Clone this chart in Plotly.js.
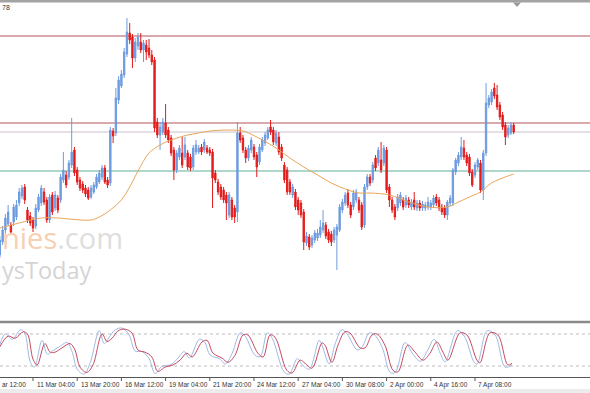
<!DOCTYPE html>
<html><head><meta charset="utf-8">
<script src="https://cdn.plot.ly/plotly-3.0.1.min.js"></script>
<style>html,body{margin:0;padding:0;background:#fff;overflow:hidden}#chart{width:590px;height:393px}</style>
</head><body><div id="chart"></div>
<script>
// H4 candles (price values)
const openP = [1.0645,1.0658,1.0670,1.0676,1.0675,1.0678,1.0683,1.0697,1.0704,1.0713,
1.0690,1.0684,1.0680,1.0674,1.0690,1.0697,1.0708,1.0700,1.0680,1.0705,
1.0692,1.0702,1.0700,1.0720,1.0725,1.0723,1.0735,1.0750,1.0730,1.0720,
1.0716,1.0712,1.0710,1.0703,1.0708,1.0713,1.0718,1.0723,1.0732,1.0720,
1.0717,1.0769,1.0767,1.0800,1.0814,1.0825,1.0846,1.0867,1.0863,1.0842,
1.0854,1.0858,1.0850,1.0855,1.0852,1.0845,1.0840,1.0778,1.0765,1.0768,
1.0777,1.0770,1.0762,1.0750,1.0730,1.0743,1.0747,1.0743,1.0747,1.0743,
1.0733,1.0748,1.0748,1.0753,1.0750,1.0752,1.0750,1.0748,1.0727,1.0718,
1.0713,1.0710,1.0705,1.0685,1.0700,1.0692,1.0688,1.0767,1.0762,1.0750,
1.0742,1.0750,1.0753,1.0745,1.0738,1.0750,1.0757,1.0762,1.0773,1.0770,
1.0757,1.0763,1.0753,1.0735,1.0730,1.0718,1.0705,1.0708,1.0700,1.0697,
1.0688,1.0657,1.0663,1.0655,1.0660,1.0662,1.0665,1.0670,1.0675,1.0668,
1.0666,1.0660,1.0665,1.0670,1.0690,1.0697,1.0707,1.0695,1.0693,1.0700,
1.0700,1.0695,1.0675,1.0713,1.0723,1.0720,1.0742,1.0737,1.0740,1.0737,
1.0750,1.0713,1.0700,1.0693,1.0692,1.0697,1.0700,1.0695,1.0700,1.0693,
1.0700,1.0692,1.0697,1.0692,1.0692,1.0693,1.0693,1.0695,1.0703,1.0700,
1.0693,1.0692,1.0685,1.0697,1.0697,1.0728,1.0737,1.0743,1.0752,1.0745,
1.0743,1.0728,1.0725,1.0733,1.0737,1.0710,1.0747,1.0795,1.0798,1.0812,
1.0805,1.0795,1.0785,1.0775,1.0765,1.0767,1.0775];
const highP = [1.0664,1.0674,1.0686,1.0695,1.0678,1.0696,1.0700,1.0712,1.0715,1.0716,
1.0693,1.0688,1.0683,1.0696,1.0706,1.0715,1.0712,1.0703,1.0706,1.0708,
1.0709,1.0705,1.0726,1.0748,1.0729,1.0740,1.0782,1.0753,1.0733,1.0723,
1.0719,1.0715,1.0713,1.0715,1.0718,1.0726,1.0730,1.0735,1.0735,1.0723,
1.0773,1.0772,1.0812,1.0824,1.0830,1.0852,1.0882,1.0877,1.0866,1.0862,
1.0867,1.0867,1.0860,1.0860,1.0861,1.0850,1.0843,1.0782,1.0778,1.0782,
1.0796,1.0773,1.0765,1.0753,1.0750,1.0755,1.0763,1.0763,1.0750,1.0746,
1.0755,1.0760,1.0755,1.0756,1.0761,1.0755,1.0753,1.0751,1.0730,1.0721,
1.0716,1.0713,1.0708,1.0708,1.0703,1.0695,1.0778,1.0773,1.0765,1.0753,
1.0755,1.0763,1.0756,1.0748,1.0756,1.0763,1.0768,1.0773,1.0780,1.0773,
1.0770,1.0768,1.0756,1.0738,1.0733,1.0721,1.0716,1.0711,1.0703,1.0700,
1.0691,1.0668,1.0666,1.0665,1.0670,1.0671,1.0680,1.0690,1.0678,1.0671,
1.0669,1.0673,1.0676,1.0696,1.0701,1.0708,1.0711,1.0698,1.0710,1.0711,
1.0703,1.0698,1.0716,1.0726,1.0726,1.0738,1.0745,1.0753,1.0758,1.0755,
1.0753,1.0716,1.0703,1.0696,1.0706,1.0708,1.0703,1.0705,1.0703,1.0701,
1.0708,1.0700,1.0700,1.0699,1.0698,1.0703,1.0700,1.0705,1.0706,1.0703,
1.0696,1.0695,1.0700,1.0705,1.0732,1.0742,1.0748,1.0763,1.0760,1.0748,
1.0746,1.0731,1.0738,1.0742,1.0740,1.0750,1.0817,1.0805,1.0811,1.0817,
1.0815,1.0798,1.0788,1.0778,1.0775,1.0778,1.0777];
const lowP = [1.0642,1.0655,1.0667,1.0674,1.0665,1.0674,1.0680,1.0694,1.0701,1.0696,
1.0677,1.0674,1.0668,1.0671,1.0688,1.0694,1.0695,1.0677,1.0677,1.0685,
1.0689,1.0687,1.0697,1.0717,1.0712,1.0720,1.0732,1.0724,1.0715,1.0709,
1.0707,1.0703,1.0700,1.0701,1.0706,1.0711,1.0716,1.0720,1.0716,1.0712,
1.0714,1.0757,1.0764,1.0796,1.0812,1.0822,1.0843,1.0856,1.0832,1.0838,
1.0850,1.0847,1.0838,1.0840,1.0842,1.0835,1.0768,1.0762,1.0750,1.0765,
1.0762,1.0757,1.0744,1.0720,1.0727,1.0740,1.0732,1.0740,1.0730,1.0729,
1.0730,1.0745,1.0746,1.0745,1.0747,1.0746,1.0744,1.0692,1.0717,1.0705,
1.0700,1.0697,1.0680,1.0682,1.0680,1.0677,1.0678,1.0757,1.0747,1.0737,
1.0739,1.0747,1.0740,1.0723,1.0735,1.0748,1.0754,1.0760,1.0765,1.0755,
1.0754,1.0745,1.0739,1.0717,1.0705,1.0705,1.0702,1.0690,1.0685,1.0682,
1.0650,1.0654,1.0650,1.0652,1.0657,1.0659,1.0662,1.0667,1.0661,1.0657,
1.0654,1.0657,1.0630,1.0668,1.0687,1.0694,1.0692,1.0682,1.0690,1.0697,
1.0687,1.0670,1.0672,1.0710,1.0714,1.0717,1.0729,1.0734,1.0727,1.0734,
1.0707,1.0693,1.0687,1.0680,1.0689,1.0694,1.0690,1.0692,1.0692,1.0690,
1.0690,1.0689,1.0689,1.0689,1.0689,1.0690,1.0690,1.0692,1.0694,1.0689,
1.0685,1.0682,1.0680,1.0694,1.0694,1.0725,1.0734,1.0740,1.0740,1.0734,
1.0724,1.0713,1.0722,1.0730,1.0707,1.0700,1.0744,1.0792,1.0795,1.0801,
1.0790,1.0780,1.0770,1.0755,1.0762,1.0765,1.0766];
const closeP = [1.0660,1.0670,1.0682,1.0688,1.0668,1.0693,1.0695,1.0708,1.0712,1.0700,
1.0680,1.0677,1.0672,1.0692,1.0703,1.0712,1.0698,1.0680,1.0703,1.0688,
1.0705,1.0690,1.0723,1.0730,1.0715,1.0737,1.0748,1.0727,1.0718,1.0712,
1.0710,1.0706,1.0702,1.0712,1.0715,1.0723,1.0727,1.0732,1.0718,1.0715,
1.0770,1.0764,1.0802,1.0820,1.0826,1.0848,1.0868,1.0860,1.0842,1.0858,
1.0863,1.0850,1.0857,1.0848,1.0845,1.0838,1.0772,1.0765,1.0773,1.0778,
1.0765,1.0760,1.0747,1.0730,1.0747,1.0752,1.0735,1.0755,1.0733,1.0732,
1.0752,1.0755,1.0752,1.0748,1.0758,1.0748,1.0747,1.0722,1.0720,1.0708,
1.0703,1.0700,1.0697,1.0705,1.0683,1.0683,1.0767,1.0760,1.0750,1.0742,
1.0752,1.0760,1.0743,1.0733,1.0753,1.0760,1.0765,1.0770,1.0768,1.0758,
1.0767,1.0748,1.0742,1.0720,1.0708,1.0708,1.0713,1.0693,1.0690,1.0685,
1.0658,1.0664,1.0653,1.0662,1.0667,1.0667,1.0673,1.0677,1.0664,1.0660,
1.0658,1.0670,1.0673,1.0693,1.0698,1.0705,1.0695,1.0685,1.0707,1.0708,
1.0690,1.0673,1.0713,1.0723,1.0717,1.0735,1.0732,1.0750,1.0730,1.0752,
1.0710,1.0700,1.0690,1.0683,1.0703,1.0705,1.0693,1.0702,1.0695,1.0698,
1.0693,1.0697,1.0692,1.0696,1.0695,1.0698,1.0697,1.0702,1.0697,1.0692,
1.0688,1.0685,1.0698,1.0702,1.0730,1.0740,1.0745,1.0753,1.0743,1.0737,
1.0727,1.0715,1.0735,1.0740,1.0710,1.0747,1.0797,1.0802,1.0808,1.0804,
1.0793,1.0783,1.0773,1.0763,1.0772,1.0775,1.0768];

// moving average read at sample candles
const maIdx = [0,7,15,21,25,33,36,40,44,47,50,54,58,62,68,72,76,83,88,90,95,100,105,110,115,120,125,130,134,141,148,155,162,166,170,174,178,186];
const maVal = [1.0672,1.0677,1.0682,1.0682,1.0681,1.0680,1.0683,1.0690,1.0700,1.0713,1.0729,1.0747,1.0755,1.0760,1.0765,1.0767,1.0769,1.0770,1.0769,1.0767,1.0760,1.0752,1.0742,1.0733,1.0725,1.0717,1.0711,1.0707,1.0707,1.0705,1.0698,1.0693,1.0693,1.0698,1.0703,1.0708,1.0717,1.0726];

// horizontal levels on the price panel
const levelPrices = [1.0864, 1.0777, 1.0768, 1.0729];
const levelColors = ['#b4525c', '#b4525c', '#cbbfcc', '#5fae98'];

// stochastic oscillator (%K and %D), sampled
const kIdx = [0,2,4.5,7.5,9,11,12.5,15.3,17.2,19,21.5,24.4,26.2,28,30.5,32.7,36,37.8,39.6,41.8,44.3,46.8,49,51.5,54,56.2,58.8,61.7,64.2,66.7,68.6,72.2,74,76.2,79.4,81.6,84.1,87,88.8,92.4,94.3,96.8,98.6,102.9,104.8,107.7,109.5,112,115.6,116.7,119.2,121.4,123.9,125.7,129.4,131.2,133.7,135.5,138.4,141.3,143.1,146.7,149.3,152.2,154.7,157.2,159.4,161.2,165.6,168.1,171.7,172.8,176.4,179.3,182.9,185.4];
const kVal = [60,80,70,88,82,28,18,68,42,48,56,64,46,14,5,26,86,62,74,88,91,78,48,47,34,6,20,22,33,47,35,70,66,40,34,24,44,82,76,40,38,82,72,9,5,34,22,14,68,58,24,62,88,80,50,56,82,79,55,8,8,64,44,29,48,70,44,28,86,76,27,24,86,78,18,22];
const dIdx = [0,3,5.5,8.5,10,12,13.5,16.3,18.2,20,22.5,25.4,27.2,29,31.5,33.7,37,38.8,40.6,42.8,45.3,47.8,50,52.5,55,57.2,59.8,62.7,65.2,67.7,69.6,73.2,75,77.2,80.4,82.6,85.1,88,89.8,93.4,95.3,97.8,99.6,103.9,105.8,108.7,110.5,113,116.6,117.7,120.2,122.4,124.9,126.7,130.4,132.2,134.7,136.5,139.4,142.3,144.1,147.7,150.3,153.2,155.7,158.2,160.4,162.2,166.6,169.1,172.7,173.8,177.4,180.3,183.9,185.4];
const dVal = [56,76,72,84,80,33,22,62,46,46,54,62,50,18,8,22,80,66,72,86,89,82,50,46,37,10,18,22,31,44,37,65,68,44,35,27,40,78,78,44,37,78,74,12,7,31,25,16,63,59,27,59,84,82,54,54,78,80,59,12,9,59,46,31,44,65,46,31,82,78,31,26,82,78,22,25];
const stochLevels = [80, 20];

// time axis
const tickIdx = [12,28,44,60,76,92,108,124,140,156,172];
const tickLabels = ['11 Mar 04:00','13 Mar 20:00','16 Mar 12:00','19 Mar 04:00','21 Mar 20:00','24 Mar 12:00','27 Mar 04:00','30 Mar 08:00','2 Apr 00:00','4 Apr 16:00','7 Apr 08:00'];
const edgeLabel = 'ar 12:00';   // visible tail of the label cut by the left edge

const W = 590, H = 393;
const py = p => 1 - p / H;           // pixel row -> paper fraction
const xr = [0.054, 213.63];
const candleX = openP.map((_, i) => i);
const toPaperX = i => (i - xr[0]) / (xr[1] - xr[0]);

const traces = [
  {type:'candlestick', x:candleX, open:openP, high:highP, low:lowP, close:closeP,
   xaxis:'x', yaxis:'y', whiskerwidth:0, hoverinfo:'skip',
   increasing:{line:{color:'#6d9be0', width:1}, fillcolor:'#6d9be0'},
   decreasing:{line:{color:'#e41b1b', width:1}, fillcolor:'#e41b1b'}},
  {type:'scatter', mode:'lines', x:maIdx, y:maVal, xaxis:'x', yaxis:'y',
   line:{color:'#e8a658', width:1, shape:'spline'}, hoverinfo:'skip'},
  {type:'scatter', mode:'lines', x:kIdx, y:kVal, xaxis:'x2', yaxis:'y2',
   line:{color:'#9db8e4', width:1, shape:'spline'}, hoverinfo:'skip'},
  {type:'scatter', mode:'lines', x:dIdx, y:dVal, xaxis:'x2', yaxis:'y2',
   line:{color:'#c34a5e', width:1, shape:'spline'}, hoverinfo:'skip'}
];

const shapes = [];
levelPrices.forEach((p, k) => shapes.push({type:'line', xref:'paper', yref:'y', x0:0, x1:1, y0:p, y1:p,
  line:{color:levelColors[k], width:1}, layer:'below'}));
stochLevels.forEach(v => shapes.push({type:'line', xref:'paper', yref:'y2', x0:0, x1:1, y0:v, y1:v,
  line:{color:'#bdbdbd', width:1, dash:'dot'}, layer:'below'}));
// frame pieces
shapes.push({type:'rect', xref:'paper', yref:'paper', x0:0, x1:1, y0:py(2.5), y1:1, fillcolor:'#a3a3a3', line:{width:0}});
shapes.push({type:'rect', xref:'paper', yref:'paper', x0:0, x1:1, y0:py(323.3), y1:py(320.8), fillcolor:'#8a8a8a', line:{width:0}});
shapes.push({type:'rect', xref:'paper', yref:'paper', x0:0, x1:1, y0:0, y1:py(389), fillcolor:'#ececec', line:{width:0}});
// chart shift marker
const tx = 517 / W;
shapes.push({type:'path', xref:'paper', yref:'paper',
  path:`M ${tx - 4/W} ${py(2.5)} L ${tx + 4/W} ${py(2.5)} L ${tx} ${py(7)} Z`, fillcolor:'#9a9a9a', line:{width:0}});

const tickFont = {family:'Liberation Sans, Arial, sans-serif', size:6.5, color:'#333'};
const annotations = [
  {xref:'paper', yref:'paper', x:0, y:py(8), xanchor:'left', yanchor:'middle', showarrow:false,
   text:'78', font:{family:'Liberation Sans, Arial, sans-serif', size:7, color:'#333'}},
  {xref:'paper', yref:'paper', x:0, y:py(237), xanchor:'left', yanchor:'middle', showarrow:false,
   text:"<span style='color:#f7cfb3'>nies</span><span style='color:#dedede'>.com</span>",
   font:{family:'Open Sans, sans-serif', size:29, color:'#dedede'}},
  {xref:'paper', yref:'paper', x:0, y:py(270), xanchor:'left', yanchor:'middle', showarrow:false,
   text:'ysToday', font:{family:'Open Sans, sans-serif', size:23.5, color:'#d4d4d4'}},
  {xref:'paper', yref:'paper', x:0, y:py(384.5), xanchor:'left', yanchor:'middle', showarrow:false,
   text:edgeLabel, font:tickFont}
];
tickIdx.forEach((t, k) => {
  annotations.push({xref:'paper', yref:'paper', x:toPaperX(t) + 1.5/W, y:py(384.5), xanchor:'left', yanchor:'middle',
    showarrow:false, text:tickLabels[k], font:tickFont});
  shapes.push({type:'line', xref:'paper', yref:'paper', x0:toPaperX(t), x1:toPaperX(t), y0:py(377), y1:py(381),
    line:{color:'#555', width:1}});
});

const layout = {
  width:W, height:H, margin:{l:0, r:0, t:0, b:0}, paper_bgcolor:'#fff', plot_bgcolor:'rgba(0,0,0,0)',
  showlegend:false, dragmode:false,
  xaxis:{range:xr, anchor:'y', showticklabels:false, showgrid:false, zeroline:false, showline:false, ticks:'',
         rangeslider:{visible:false}, fixedrange:true},
  yaxis:{range:[1.0580, 1.0897], domain:[py(320), py(3)], showticklabels:false, showgrid:false, zeroline:false, ticks:'', fixedrange:true},
  xaxis2:{range:xr, anchor:'y2', showgrid:false, zeroline:false, showline:true, linecolor:'#555', linewidth:1,
          ticks:'', showticklabels:false, fixedrange:true},
  yaxis2:{range:[0, 100], domain:[py(376.7), py(323.3)], showticklabels:false, showgrid:false, zeroline:false, ticks:'', fixedrange:true},
  shapes, annotations
};

Plotly.newPlot('chart', traces, layout, {staticPlot:true, displayModeBar:false});
</script>
</body></html>
